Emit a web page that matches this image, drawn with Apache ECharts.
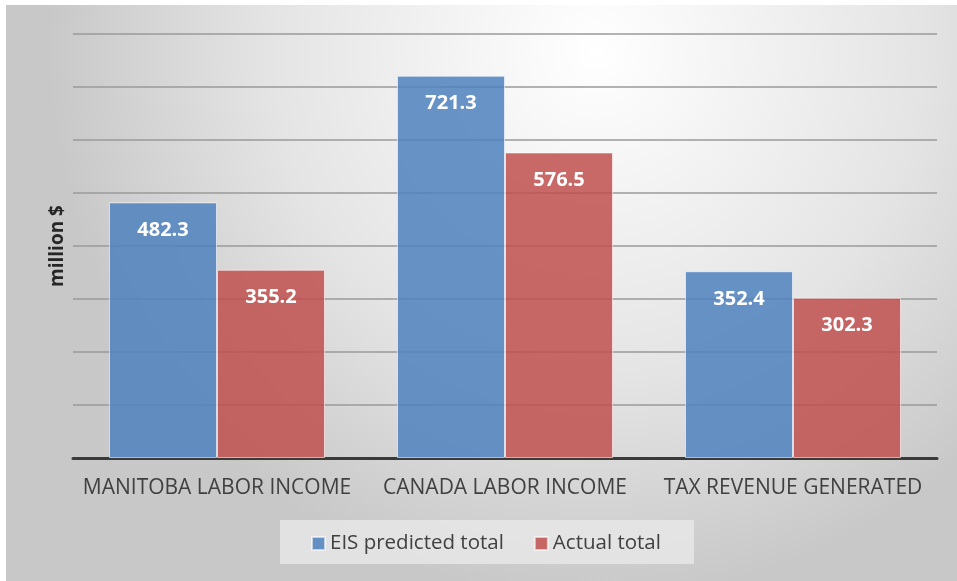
<!DOCTYPE html>
<html>
<head>
<meta charset="utf-8">
<script src="https://cdn.jsdelivr.net/npm/echarts@6/dist/echarts.min.js"></script>
<style>
  html, body { margin: 0; padding: 0; background: #fff; }
  #chart { width: 957px; height: 581px; }
</style>
</head>
<body>
<div id="chart"></div>
<script>
var categories = ['MANITOBA LABOR INCOME', 'CANADA LABOR INCOME', 'TAX REVENUE GENERATED'];
var predicted = [482.3, 721.3, 352.4];
var actual = [355.2, 576.5, 302.3];
var seriesNames = ['EIS predicted total', 'Actual total'];

var chartDom = document.getElementById('chart');
var myChart = echarts.init(chartDom);

var barLabel = {
  show: true,
  position: 'insideTop',
  distance: 18,
  color: '#fff',
  fontSize: 20,
  fontWeight: 'bold',
  fontFamily: 'Open Sans'
};

// 背景渐变 + 图例底框
var option = {
  backgroundColor: '#ffffff',
  graphic: [
    {
      type: 'rect',
      left: 6, top: 5,
      shape: { width: 951, height: 576 },
      style: {
        fill: {
          type: 'radial',
          x: 0.62, y: 0.08, r: 0.95,
          colorStops: [
            { offset: 0, color: '#ffffff' },
            { offset: 0.6, color: '#e4e4e4' },
            { offset: 1, color: '#c8c8c8' }
          ]
        }
      },
      z: -2
    },
    {
      type: 'rect',
      left: 280, top: 520,
      shape: { width: 414, height: 44 },
      style: { fill: 'rgba(232,232,232,0.8)' },
      z: -1
    }
  ],
  grid: {
    left: 73,
    right: 20,
    top: 34,
    bottom: 123
  },
  legend: {
    data: seriesNames,
    bottom: 22,
    left: 306,
    icon: 'rect',
    itemWidth: 13,
    itemHeight: 13,
    itemGap: 30,
    textStyle: {
      color: '#404040',
      fontSize: 20.5,
      fontFamily: 'Open Sans'
    }
  },
  xAxis: {
    type: 'category',
    data: categories,
    axisLine: { lineStyle: { color: '#3a3a3a', width: 3 } },
    axisTick: { show: false },
    axisLabel: {
      interval: 0,
      color: '#404040',
      fontSize: 21,
      fontFamily: 'Open Sans',
      margin: 20
    }
  },
  yAxis: {
    type: 'value',
    min: 0,
    max: 800,
    interval: 100,
    name: 'million $',
    nameLocation: 'middle',
    nameGap: 6,
    nameTextStyle: {
      color: '#262626',
      fontSize: 19,
      fontWeight: 'bold',
      fontFamily: 'Open Sans'
    },
    axisLabel: { show: false },
    axisLine: { show: false },
    axisTick: { show: false },
    splitLine: { lineStyle: { color: '#9a9a9a', width: 1.5 } }
  },
  series: [
    {
      name: seriesNames[0],
      type: 'bar',
      data: predicted,
      barGap: '0%',
      barCategoryGap: '25%',
      itemStyle: {
        color: 'rgba(79,129,189,0.85)',
        borderColor: 'rgba(255,255,255,0.6)',
        borderWidth: 1
      },
      label: barLabel
    },
    {
      name: seriesNames[1],
      type: 'bar',
      data: actual,
      itemStyle: {
        color: 'rgba(192,80,77,0.85)',
        borderColor: 'rgba(255,255,255,0.6)',
        borderWidth: 1
      },
      label: barLabel
    }
  ]
};

myChart.setOption(option);
window.addEventListener('resize', function () {
  myChart.resize();
});
</script>
</body>
</html>
